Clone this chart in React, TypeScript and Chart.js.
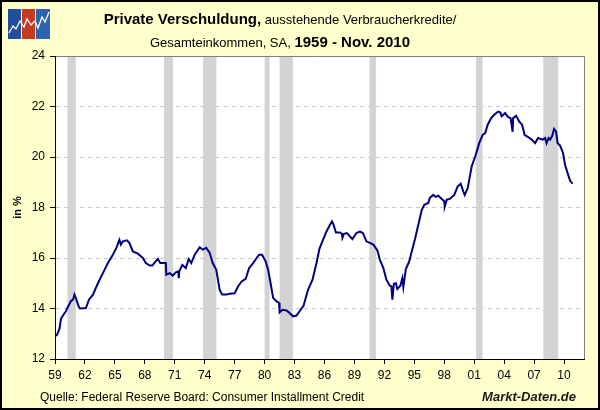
import React, { useEffect, useRef } from "react";
import { Chart, registerables } from "chart.js";

Chart.register(...registerables);

// Data (year as decimal, value in %)
const dataYears = [
  1959.0, 1959.2, 1959.45, 1959.6, 1959.85, 1960.1, 1960.4, 1960.6, 1960.8, 1960.95,
  1961.1, 1961.4, 1961.5, 1962.1, 1962.4, 1962.8, 1963.3, 1963.8, 1964.3, 1964.8,
  1965.15, 1965.45, 1965.6, 1965.8, 1966.2, 1966.45, 1966.8, 1967.3, 1967.6, 1967.8,
  1968.1, 1968.5, 1968.75, 1969.0, 1969.3, 1969.55, 1970.1, 1970.15, 1970.5, 1970.8,
  1971.1, 1971.35, 1971.4, 1971.45, 1971.75, 1972.1, 1972.4, 1972.65, 1973.0, 1973.5,
  1973.8, 1974.15, 1974.5, 1974.8, 1975.15, 1975.3, 1975.5, 1975.75, 1976.15, 1976.5,
  1977.0, 1977.35, 1977.7, 1978.1, 1978.45, 1978.85, 1979.2, 1979.45, 1979.75, 1980.1,
  1980.35, 1980.6, 1980.85, 1981.2, 1981.45, 1981.5, 1981.8, 1982.2, 1982.5, 1982.85,
  1983.2, 1983.5, 1983.9, 1984.35, 1984.8, 1985.2, 1985.5, 1985.85, 1986.2, 1986.55,
  1986.75, 1986.9, 1987.15, 1987.55, 1987.75, 1987.8, 1987.95, 1988.25, 1988.8, 1989.2,
  1989.55, 1989.85, 1990.2, 1990.55, 1990.9, 1991.3, 1991.55, 1991.9, 1992.2, 1992.55,
  1992.7, 1992.8, 1992.95, 1993.15, 1993.3, 1993.6, 1993.8, 1993.9, 1994.15, 1994.5,
  1994.7, 1995.05, 1995.4, 1995.75, 1996.0, 1996.4, 1996.55, 1996.9, 1997.15, 1997.4,
  1997.75, 1998.0, 1998.05, 1998.25, 1998.55, 1999.0, 1999.35, 1999.65, 1999.9, 2000.05,
  2000.35, 2000.75, 2001.1, 2001.5, 2001.85, 2002.1, 2002.35, 2002.7, 2003.0, 2003.4,
  2003.6, 2003.75, 2004.1, 2004.4, 2004.65, 2004.85, 2004.9, 2005.2, 2005.5, 2005.8,
  2006.05, 2006.4, 2006.75, 2007.1, 2007.4, 2007.85, 2008.1, 2008.25, 2008.45, 2008.6,
  2008.8, 2009.0, 2009.2, 2009.35, 2009.6, 2009.9, 2010.1, 2010.35, 2010.6, 2010.85,
];

const dataValues = [
  12.9, 12.96, 13.2, 13.6, 13.75, 13.9, 14.15, 14.3, 14.35, 14.55,
  14.4, 14.05, 14.0, 14.02, 14.35, 14.55, 15.0, 15.4, 15.8, 16.13,
  16.4, 16.72, 16.53, 16.66, 16.7, 16.6, 16.26, 16.17, 16.07, 16.0,
  15.8, 15.7, 15.7, 15.83, 15.96, 15.8, 15.8, 15.34, 15.4, 15.3,
  15.43, 15.47, 15.2, 15.47, 15.73, 15.6, 15.96, 15.8, 16.13, 16.43,
  16.33, 16.4, 16.2, 15.8, 15.54, 15.2, 14.74, 14.55, 14.55, 14.58,
  14.6, 14.88, 15.07, 15.17, 15.6, 15.8, 16.0, 16.13, 16.13, 15.87,
  15.54, 15.0, 14.42, 14.28, 14.22, 13.85, 13.95, 13.92, 13.82, 13.69,
  13.72, 13.89, 14.11, 14.74, 15.14, 15.8, 16.37, 16.72, 17.05, 17.32,
  17.45, 17.32, 17.01, 17.01, 16.96, 16.8, 16.96, 16.99, 16.75, 16.99,
  17.05, 16.99, 16.66, 16.6, 16.53, 16.3, 15.93, 15.6, 15.14, 14.9,
  14.88, 14.35, 14.98, 15.0, 14.77, 14.9, 15.2, 14.85, 15.56, 15.87,
  16.2, 16.72, 17.32, 17.91, 18.11, 18.18, 18.38, 18.5, 18.42, 18.47,
  18.34, 18.25, 18.04, 18.31, 18.34, 18.5, 18.84, 18.94, 18.64, 18.5,
  18.77, 19.63, 20.02, 20.55, 20.88, 20.95, 21.28, 21.54, 21.67, 21.8,
  21.77, 21.61, 21.74, 21.58, 21.54, 21.0, 21.54, 21.63, 21.41, 21.28,
  20.88, 20.79, 20.69, 20.55, 20.75, 20.69, 20.75, 20.55, 20.75, 20.69,
  20.82, 21.11, 21.01, 20.55, 20.45, 20.16, 19.69, 19.37, 19.07, 18.94,
];

// US recessions (shaded)
const recessionStart = [1960.25, 1969.92, 1973.83, 1980.0, 1981.5, 1990.5, 2001.17, 2007.92];
const recessionEnd = [1961.08, 1970.83, 1975.17, 1980.5, 1982.83, 1991.17, 2001.83, 2009.42];

// Axis ticks
const xTickYears = [1959, 1962, 1965, 1968, 1971, 1974, 1977, 1980, 1983, 1986, 1989, 1992, 1995, 1998, 2001, 2004, 2007, 2010];
const yTicks = [12, 14, 16, 18, 20, 22, 24];

const FONT = "Arial, 'Liberation Sans', sans-serif";

const bgPlugin = {
  id: "bgPlugin",
  beforeDraw(chart: any) {
    const { ctx, chartArea } = chart;
    ctx.save();
    ctx.fillStyle = "#FFFFFF";
    ctx.fillRect(chartArea.left, chartArea.top, chartArea.right - chartArea.left, chartArea.bottom - chartArea.top);
    ctx.restore();
  },
  beforeDatasetsDraw(chart: any) {
    const { ctx, chartArea, scales } = chart;
    const xs = scales.x;
    ctx.save();
    ctx.fillStyle = "#D3D3D3";
    for (let i = 0; i < recessionStart.length; i++) {
      const a = xs.getPixelForValue(recessionStart[i]);
      const b = xs.getPixelForValue(recessionEnd[i]);
      ctx.fillRect(a, chartArea.top, b - a, chartArea.bottom - chartArea.top);
    }
    ctx.restore();
  },
  afterDraw(chart: any) {
    const { ctx, chartArea } = chart;
    ctx.save();
    ctx.lineWidth = 1;
    ctx.strokeStyle = "#808080";
    ctx.beginPath();
    ctx.moveTo(chartArea.left, chartArea.top + 0.5);
    ctx.lineTo(chartArea.right + 0.5, chartArea.top + 0.5);
    ctx.lineTo(chartArea.right + 0.5, chartArea.bottom);
    ctx.stroke();
    ctx.strokeStyle = "#000000";
    ctx.beginPath();
    ctx.moveTo(chartArea.left + 0.5, chartArea.top);
    ctx.lineTo(chartArea.left + 0.5, chartArea.bottom + 0.5);
    ctx.lineTo(chartArea.right + 0.5, chartArea.bottom + 0.5);
    ctx.stroke();
    ctx.restore();
  },
};

function Logo() {
  return (
    <svg width="42" height="30" style={{ position: "absolute", left: 6, top: 7 }}>
      <rect x="0" y="0" width="13" height="30" fill="#1F4F9E" />
      <rect x="14" y="0" width="13" height="30" fill="#C63A22" />
      <rect x="28" y="0" width="14" height="30" fill="#2E63AE" />
      <polyline
        points="1,24 5,17 8,20 12,12 16,18 19,10 23,16 27,12 30,19 34,8 37,13 41,3"
        fill="none"
        stroke="#FFFFFF"
        strokeWidth="1.3"
      />
    </svg>
  );
}

export default function App() {
  const canvasRef = useRef<HTMLCanvasElement | null>(null);

  useEffect(() => {
    document.body.style.margin = "0";
    const canvas = canvasRef.current;
    if (!canvas) return;
    const points = dataYears.map((x, i) => ({ x, y: dataValues[i] }));
    const chart = new Chart(canvas, {
      type: "line",
      data: {
        datasets: [
          {
            data: points,
            borderColor: "#000080",
            borderWidth: 2,
            pointRadius: 0,
            tension: 0,
            fill: false,
          },
        ],
      },
      options: {
        animation: false,
        responsive: false,
        devicePixelRatio: 1,
        layout: { padding: { top: 56, right: 16, bottom: 0, left: 0 } },
        plugins: { legend: { display: false }, tooltip: { enabled: false }, title: { display: false } },
        scales: {
          x: {
            type: "linear",
            min: 1959,
            max: 2012,
            afterBuildTicks: (scale: any) => {
              scale.ticks = xTickYears.map((v) => ({ value: v }));
            },
            afterFit: (scale: any) => {
              scale.height = 51;
            },
            ticks: {
              autoSkip: false,
              maxRotation: 0,
              padding: 4,
              color: "#000",
              font: { family: FONT, size: 12 },
              callback: (v: any) => String(Number(v) % 100).padStart(2, "0"),
            },
            grid: { display: true, drawOnChartArea: false, drawTicks: true, tickLength: 5, color: "#000" },
            border: { display: true, color: "#000" },
          },
          y: {
            min: 12,
            max: 24,
            afterBuildTicks: (scale: any) => {
              scale.ticks = yTicks.map((v) => ({ value: v }));
            },
            afterFit: (scale: any) => {
              scale.width = 55;
            },
            ticks: {
              padding: 5,
              color: "#000",
              font: { family: FONT, size: 12 },
            },
            title: {
              display: true,
              text: "in %",
              color: "#000",
              font: { family: FONT, size: 11, weight: "bold" },
              padding: { top: 11, bottom: 0 },
            },
            grid: {
              drawTicks: true,
              tickLength: 5,
              tickColor: "#000",
              color: (c: any) => (c.tick && (c.tick.value === 12 || c.tick.value === 24) ? "rgba(0,0,0,0)" : "#C8C8C8"),
            },
            border: { display: true, color: "#000", dash: [4, 4] },
          },
        },
      },
      plugins: [bgPlugin],
    } as any);
    return () => chart.destroy();
  }, []);

  return (
    <div
      style={{
        position: "absolute",
        left: 0,
        top: 0,
        width: 600,
        height: 410,
        background: "#FFFFCC",
        border: "2px solid #000",
        boxSizing: "border-box",
        fontFamily: FONT,
        color: "#000",
        overflow: "hidden",
      }}
    >
      <canvas ref={canvasRef} width={600} height={410} style={{ position: "absolute", left: -2, top: -2 }} />
      <Logo />
      <div style={{ position: "absolute", left: -2, top: 8, width: 560, textAlign: "center", lineHeight: "18px", whiteSpace: "nowrap" }}>
        <span style={{ fontWeight: "bold", fontSize: 15 }}>Private Verschuldung,</span>
        <span style={{ fontSize: 13 }}> ausstehende Verbraucherkredite/</span>
      </div>
      <div style={{ position: "absolute", left: -2, top: 31, width: 560, textAlign: "center", lineHeight: "18px", whiteSpace: "nowrap" }}>
        <span style={{ fontSize: 13 }}>Gesamteinkommen, SA, </span>
        <span style={{ fontWeight: "bold", fontSize: 15 }}>1959 - Nov. 2010</span>
      </div>
      <div style={{ position: "absolute", left: 38, top: 387, fontSize: 12, lineHeight: "16px", whiteSpace: "nowrap" }}>
        Quelle: Federal Reserve Board: Consumer Installment Credit
      </div>
      <div
        style={{
          position: "absolute",
          right: 22,
          top: 387,
          fontSize: 13,
          fontWeight: "bold",
          fontStyle: "italic",
          lineHeight: "16px",
          color: "#1a1a1a",
          whiteSpace: "nowrap",
        }}
      >
        Markt-Daten.de
      </div>
    </div>
  );
}
